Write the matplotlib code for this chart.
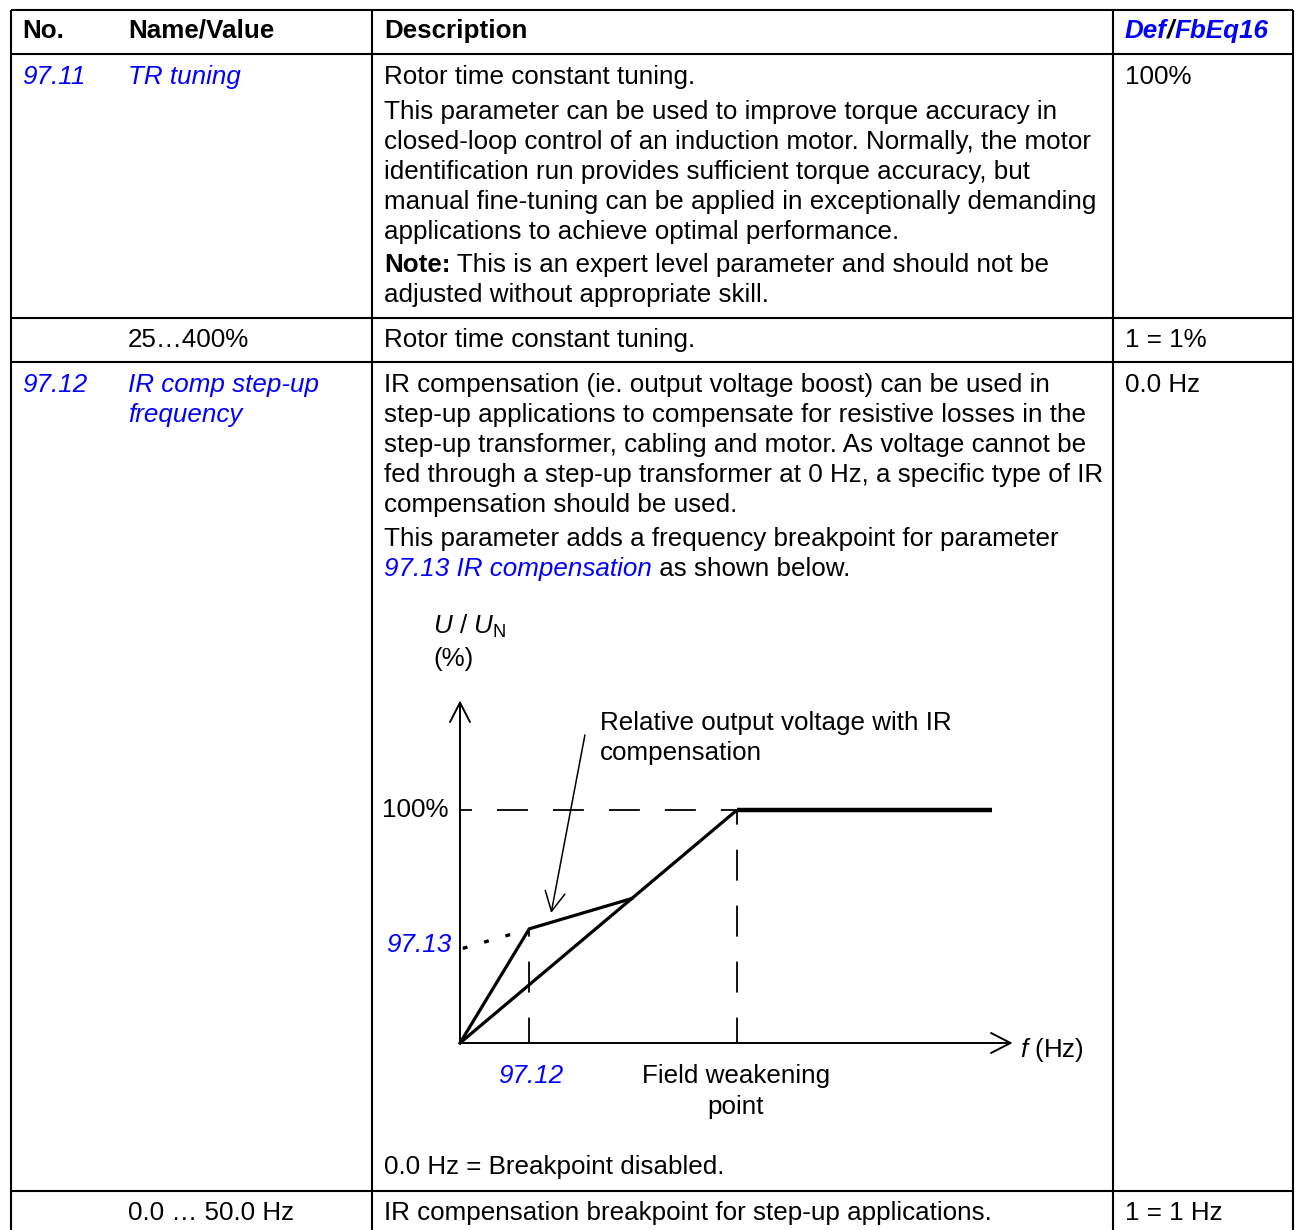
import matplotlib
matplotlib.use("Agg")
import matplotlib.pyplot as plt

plt.rcParams['font.family'] = ['Liberation Sans', 'DejaVu Sans']
plt.rcParams['mathtext.fontset'] = 'custom'
plt.rcParams['mathtext.rm'] = 'Liberation Sans'
plt.rcParams['mathtext.it'] = 'Liberation Sans:italic'
plt.rcParams['lines.scale_dashes'] = False

BLUE = '#0000ff'
FS = 18.75
W, H = 1301, 1230

# table content
header = ["No.", "Name/Value", "Description"]
row1_no, row1_name, row1_def = "97.11", "TR tuning", "100%"
row1_desc = ["Rotor time constant tuning.",
             "This parameter can be used to improve torque accuracy in",
             "closed-loop control of an induction motor. Normally, the motor",
             "identification run provides sufficient torque accuracy, but",
             "manual fine-tuning can be applied in exceptionally demanding",
             "applications to achieve optimal performance."]
row1_note = ["This is an expert level parameter and should not be",
             "adjusted without appropriate skill."]
row2 = ["25\u2026400%", "Rotor time constant tuning.", "1 = 1%"]
row3_no, row3_name, row3_def = "97.12", ["IR comp step-up", "frequency"], "0.0 Hz"
row3_desc = ["IR compensation (ie. output voltage boost) can be used in",
             "step-up applications to compensate for resistive losses in the",
             "step-up transformer, cabling and motor. As voltage cannot be",
             "fed through a step-up transformer at 0 Hz, a specific type of IR",
             "compensation should be used.",
             "This parameter adds a frequency breakpoint for parameter"]
row3_tail = "0.0 Hz = Breakpoint disabled."
row4 = ["0.0 \u2026 50.0 Hz", "IR compensation breakpoint for step-up applications.", "1 = 1 Hz"]

# diagram data (f relative to field weakening point = 100, U in % of U_N)
fwp = 100
f_brk, u_brk = 25, 49
plain_f = [0, fwp]
plain_u = [0, 100]
flat_f = [fwp, 192]
flat_u = [100, 100]
ir_f = [0, f_brk, 62]
ir_u = [0, u_brk, 62]
dot_f = [1, 24]
dot_u = [40.6, 48.6]

fig = plt.figure(figsize=(W / 100, H / 100), dpi=100)
ax = fig.add_axes([0, 0, 1, 1])
ax.set_xlim(0, W)
ax.set_ylim(H, 0)
ax.axis('off')

# grid lines
col_x = [11, 372, 1113, 1293]
row_y = [10, 54, 318, 362, 1191]
for x in col_x:
    ax.plot([x, x], [row_y[0], H], color='black', lw=1.5, solid_capstyle='butt')
for y in row_y:
    ax.plot([col_x[0], col_x[-1]], [y, y], color='black', lw=1.5, solid_capstyle='butt')

x_no, x_name, x_desc, x_def = 22, 128, 384, 1125


def put(x, y, s, **kw):
    return ax.text(x, y, s, fontsize=FS, va='baseline', ha='left', **kw)


def chain(x, y, parts):
    t = put(x, y, parts[0][0], **parts[0][1])
    for s, kw in parts[1:]:
        t = ax.annotate(s, xy=(1, 0), xycoords=t, va='bottom', ha='left',
                        fontsize=FS, **kw)


hb = dict(fontweight='bold')
put(x_no, 38, header[0], **hb)
put(x_name, 38, header[1], **hb)
put(x_desc, 38, header[2], **hb)
bi = dict(fontweight='bold', style='italic')
chain(x_def, 38, [("Def", dict(color=BLUE, **bi)), ("/", dict(color='black', **bi)),
                  ("FbEq16", dict(color=BLUE, **bi))])

# row 97.11
it_blue = dict(color=BLUE, style='italic')
put(x_no, 84, row1_no, **it_blue)
put(x_name, 84, row1_name, **it_blue)
put(x_def, 84, row1_def)
ys = [84, 119, 149, 179, 209, 239]
for y, s in zip(ys, row1_desc):
    put(x_desc, y, s)
chain(x_desc, 272, [("Note:", hb), (" " + row1_note[0], {})])
put(x_desc, 302, row1_note[1])

# row 25...400%
put(x_name, 347, row2[0])
put(x_desc, 347, row2[1])
put(x_def, 347, row2[2])

# row 97.12
put(x_no, 392, row3_no, **it_blue)
put(x_name, 392, row3_name[0], **it_blue)
put(x_name, 422, row3_name[1], **it_blue)
put(x_def, 392, row3_def)
ys = [392, 422, 452, 482, 512, 546]
for y, s in zip(ys, row3_desc):
    put(x_desc, y, s)
chain(x_desc, 576, [("97.13 IR compensation", it_blue), (" as shown below.", {})])
put(x_desc, 1174, row3_tail)

# last row
put(x_name, 1220, row4[0])
put(x_desc, 1220, row4[1])
put(x_def, 1220, row4[2])

# diagram
ox, oy = 460, 1043
sx, sy = 277 / 100, 233 / 100
dax = fig.add_axes([ox / W, (H - oy) / H, 200 * sx / W, 150 * sy / H])
dax.set_xlim(0, 200)
dax.set_ylim(0, 150)
dax.axis('off')

head = dict(arrowstyle='->,head_length=0.7,head_width=0.36', mutation_scale=20,
            shrinkA=0, shrinkB=0, color='black')
dax.annotate('', xy=(0, 147), xytext=(0, 0), annotation_clip=False,
             arrowprops=dict(lw=1.4, **head))
dax.annotate('', xy=(199.5, 0), xytext=(0, 0), annotation_clip=False,
             arrowprops=dict(lw=1.4, **head))

dash = (13.7, (22.3, 18))
dax.plot([0, fwp], [100, 100], color='black', lw=1.3, linestyle=dash, clip_on=False)
dax.plot([fwp, fwp], [0, 100], color='black', lw=1.3, linestyle=(4, (22.3, 18)), clip_on=False)
dax.plot([f_brk, f_brk], [0, u_brk], color='black', lw=1.3, linestyle=(4, (22.3, 18)), clip_on=False)
dax.plot(dot_f, dot_u, color='black', lw=2.4, linestyle=(0, (3.5, 12.5)), clip_on=False)

dax.plot(plain_f, plain_u, color='black', lw=2.3, clip_on=False, solid_capstyle='butt')
dax.plot(flat_f, flat_u, color='black', lw=3.2, clip_on=False, solid_capstyle='butt')
dax.plot(ir_f, ir_u, color='black', lw=2.3, clip_on=False, solid_joinstyle='miter')

dax.annotate('', xy=(32.9, 55.8), xytext=(45.1, 132.2), annotation_clip=False,
             arrowprops=dict(lw=1.1, **head))


def dput(f, u, s, **kw):
    kw.setdefault('ha', 'left')
    return dax.text(f, u, s, fontsize=FS, va='baseline', **kw)


dput(-9.7, 175.5, r'$\mathit{U}$ / $\mathit{U}_{\mathrm{N}}$')
dput(-9.7, 162, '(%)')
dput(50.5, 134.3, 'Relative output voltage with IR')
dput(50.5, 121.5, 'compensation')
dput(-4.0, 97.0, '100%', ha='right')
dput(-3.2, 39.0, '97.13', ha='right', **it_blue)
dput(25.6, -17.2, '97.12', ha='center', **it_blue)
dput(99.6, -17.2, 'Field weakening', ha='center')
dput(99.6, -30.5, 'point', ha='center')
dput(202, -6.0, r'$\mathit{f}$ (Hz)')

fig.savefig('out.png', dpi=100)
